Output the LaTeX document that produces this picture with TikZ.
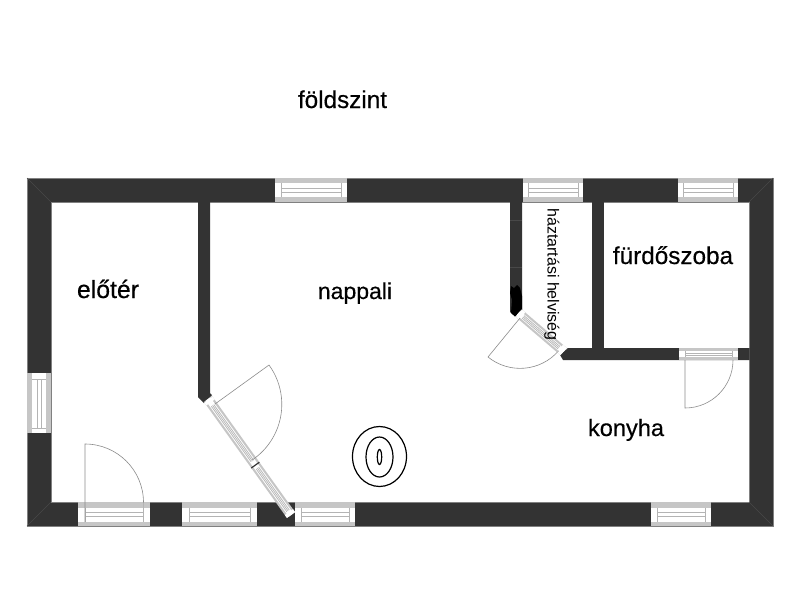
\documentclass[tikz,border=0pt]{standalone}
\usepackage{fontspec}
\setmainfont{Liberation Sans}
\newfontfamily\labelfont[FakeBold=0.35]{Liberation Sans}
\usetikzlibrary{calc}
\definecolor{wallc}{HTML}{333333}
\definecolor{bandc}{HTML}{C6C6C6}
\definecolor{linec}{HTML}{B4B4B4}
\definecolor{swingc}{HTML}{8C8C8C}
\definecolor{jointc}{HTML}{484848}
\tikzset{
  wallfill/.style={fill=wallc,draw=none},
  wallhair/.style={draw=black!50,line width=0.35pt},
  mitre/.style={draw=jointc,line width=0.4pt},
  seam/.style={draw=jointc,line width=0.3pt},
  band/.style={fill=bandc,draw=none},
  glass/.style={fill=white,draw=none},
  winline/.style={draw=linec,line width=0.9pt},
  swing/.style={draw=swingc,line width=0.6pt},
  stove/.style={draw=black,line width=1.2pt},
  room/.style={inner sep=0pt,anchor=base,text=black},
}
% horizontal window: x1 x2 ytop ybottom bandtop bandbottom line1 line2 inset
\newcommand{\winH}[9]{
  \fill[glass] (#1,#3) rectangle (#2,#4);
  \fill[band] (#1,#3) rectangle (#2,#5);
  \fill[band] (#1,#6) rectangle (#2,#4);
  \draw[winline] ({#1+#9},#7) -- ({#2-#9},#7);
  \draw[winline] ({#1+#9},#8) -- ({#2-#9},#8);
  \draw[winline] ({#1+#9},#5) -- ({#1+#9},#6);
  \draw[winline] ({#2-#9},#5) -- ({#2-#9},#6);
}
% diagonal window between two named coordinates: name1 name2 tstart tend
\newcommand{\winD}[4]{
  \draw[winline,line width=0.7pt] ($(#1)!#3!(#2)$) -- ($(#1)!#4!(#2)$);
  \draw[winline,line width=0.7pt] ($($(#1)!#3!(#2)$)!1.5pt!90:(#2)$) -- ($($(#1)!#4!(#2)$)!1.5pt!90:(#2)$);
  \draw[winline,line width=0.7pt] ($($(#1)!#3!(#2)$)!-1.5pt!90:(#2)$) -- ($($(#1)!#4!(#2)$)!-1.5pt!90:(#2)$);
}
\begin{document}
\begin{tikzpicture}[x=1pt,y=-1pt]
\useasboundingbox (0,0) rectangle (800,600);
\fill[white] (0,0) rectangle (800,600);

% outer walls
\fill[wallfill,even odd rule] (27,178) rectangle (773,526) (51,202) rectangle (749,502);
\draw[wallhair] (27,178) rectangle (773,526);
\draw[wallhair] (51,202) rectangle (749,502);
% interior walls
\fill[wallfill] (198,202) -- (210,202) -- (210,393) -- (212,395) -- (204,403) -- (198,397) -- cycle;
\fill[wallfill] (510,202) -- (522,202) -- (522,310) -- (515,316) -- (510,312) -- cycle;
\fill[black] (511,286) -- (514,288) -- (517,285) -- (520,288) -- (522,296) -- (522,310) -- (515,316.5) -- (511,313) -- (512,300) -- (510,293) -- cycle;
\fill[wallfill] (592,201) rectangle (604,348);
\fill[wallfill] (198,201) rectangle (210,203);
\fill[wallfill] (510,201) rectangle (522,203);
\fill[wallfill] (568,348) -- (749.5,348) -- (749.5,360) -- (563,360) -- (560,355) -- cycle;

% faint joints
\draw[mitre] (27,178) -- (51,202);
\draw[mitre] (773,178) -- (749,202);
\draw[mitre] (27,526) -- (51,502);
\draw[mitre] (773,526) -- (749,502);
\draw[seam] (510,220) -- (522,220);
\draw[seam] (510,267) -- (522,267);

% top windows
\winH{275}{347}{178}{202}{183}{197}{188}{192.5}{6}
\winH{523}{583}{178}{202}{183}{197}{188}{192.5}{5}
\winH{678}{738}{178}{202}{183}{197}{188}{192.5}{5}
% bottom windows
\winH{78}{150}{502}{526}{507.5}{522}{512}{516.5}{7}
\winH{182}{257}{502}{526}{507.5}{522}{512}{516.5}{7}
\winH{295}{355}{502}{526}{507.5}{522}{512}{516.5}{6}
\winH{651}{711}{502}{526}{507.5}{522}{512}{516.5}{6}
% door window in the inner wall
\winH{679}{738}{348}{360}{351}{357}{353}{355}{6}

% left window
\fill[glass] (27,373) rectangle (51,433);
\fill[band] (27,373) rectangle (32,433);
\fill[band] (46,373) rectangle (51,433);
\draw[winline] (32,379) -- (46,379);
\draw[winline] (32,428) -- (46,428);
\draw[winline] (37,379) -- (37,428);
\draw[winline] (41.5,379) -- (41.5,428);

% large diagonal window
\coordinate (da) at (208,399);
\coordinate (db) at (291,515);
\draw[bandc,line width=10pt] (da) -- (db);
\draw[white,line width=5.6pt] (da) -- (db);
\draw[white,line width=10pt] ($(da)!0.005!(db)$) -- ($(da)!0.03!(db)$);
\draw[white,line width=10pt] ($(da)!0.975!(db)$) -- (db);
\winD{da}{db}{0.055}{0.535}
\winD{da}{db}{0.595}{0.965}
\draw[wallc,line width=1.2pt] ($($(da)!0.57!(db)$)!5pt!90:(db)$) -- ($($(da)!0.57!(db)$)!-5pt!90:(db)$);

% small diagonal window
\coordinate (ea) at (518.5,313);
\coordinate (eb) at (563.5,351.5);
\draw[bandc,line width=9.6pt] (ea) -- (eb);
\draw[white,line width=5.2pt] (ea) -- (eb);
\draw[white,line width=9.6pt] ($(ea)!0.01!(eb)$) -- ($(ea)!0.08!(eb)$);
\draw[white,line width=9.6pt] ($(ea)!0.92!(eb)$) -- (eb);
\winD{ea}{eb}{0.10}{0.90}

% door swings (the y axis points down, so arc angles are mirrored)
\coordinate (hinge1) at (215,404);
\coordinate (leaf1) at (269,365);
\draw[swing] (hinge1) -- (leaf1) arc[start angle=-36,end angle=56,radius=67];
\coordinate (hinge2) at (85,522);
\coordinate (leaf2) at (85,444);
\draw[swing] (hinge2) -- (leaf2) arc[start angle=-90,end angle=0,radius=58.5];
\draw[winline,line width=0.6pt] (143,503) -- (143,522);
\coordinate (hinge3) at (685,360);
\coordinate (leaf3) at (685,408);
\draw[swing] (hinge3) -- (leaf3) arc[start angle=90,end angle=0,radius=48];
\coordinate (hinge4) at (520,318);
\coordinate (leaf4) at (488,357);
\draw[swing] (hinge4) -- (leaf4) arc[start angle=129,end angle=41,radius=51];

% stove
\draw[stove] (379.5,456.5) ellipse[x radius=27,y radius=30];
\draw[stove] (379.5,457) ellipse[x radius=13.5,y radius=20];
\draw[stove] (379.5,457) ellipse[x radius=2.2,y radius=7.5];

% labels
\node[room,font=\labelfont\fontsize{24.3}{28}\selectfont] (cim) at (342.5,108) {földszint};
\node[room,font=\labelfont\fontsize{24.8}{28}\selectfont] (eloter) at (108,298) {előtér};
\node[room,font=\labelfont\fontsize{23}{28}\selectfont] (nappali) at (355,299) {nappali};
\node[room,font=\labelfont\fontsize{23.6}{28}\selectfont] (konyha) at (626,436) {konyha};
\node[room,font=\labelfont\fontsize{24.3}{28}\selectfont] (furdo) at (673,264) {fürdőszoba};
\node[room,font=\fontsize{16}{20}\selectfont,rotate=-90] (haztartasi) at (547.5,274.5) {háztartási helviség};
\end{tikzpicture}
\end{document}
